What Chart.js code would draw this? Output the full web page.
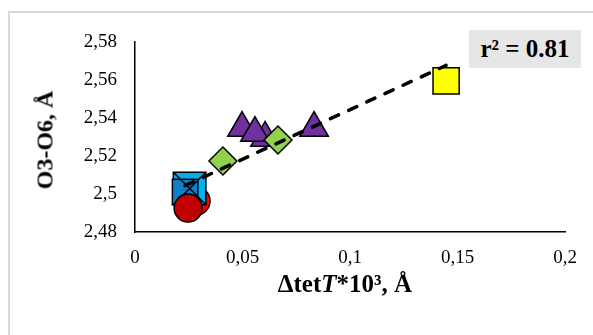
<!DOCTYPE html>
<html>
<head>
<meta charset="utf-8">
<script src="https://cdn.jsdelivr.net/npm/chart.js@4"></script>
<style>
    html, body { margin: 0; padding: 0; background: #fff; }
    #wrap { position: relative; width: 593px; height: 335px; overflow: hidden; }
    #frame {
        position: absolute; left: 8px; top: 11px; width: 700px; height: 400px;
        border-left: 2px solid #d9d9d9; border-top: 2px solid #d9d9d9;
    }
    #chart { position: absolute; left: 0; top: 0; }
    .txt {
        position: absolute; white-space: nowrap; color: #000; font-weight: bold;
        font-family: 'Liberation Serif', 'Times New Roman', serif;
    }
    #xTitle { left: 345px; top: 284px; transform: translate(-50%, -50%); font-size: 25px; }
    #yTitle { left: 45px; top: 140px; transform: translate(-50%, -50%) rotate(-90deg); font-size: 24px; }
    #rBox {
        left: 469px; top: 30px; width: 112px; height: 38px; line-height: 38px;
        text-align: center; background: #e7e6e6; font-size: 25px;
    }
</style>
</head>
<body>
<div id="wrap">
    <div id="frame"></div>
    <canvas id="chart" width="593" height="335"></canvas>
    <div class="txt" id="yTitle">O3-O6, Å</div>
    <div class="txt" id="xTitle">Δtet<i>T</i>*10³, Å</div>
    <div class="txt" id="rBox"></div>
</div>
<script>
// ========================================
// DATA
// ========================================

const xTicks = [0, 0.05, 0.1, 0.15, 0.2];
const yTicks = [2.48, 2.5, 2.52, 2.54, 2.56, 2.58];

// each series: [x, y] pairs
const circleBrightPts = [[0.0284, 2.4963]];
const circleDarkPts = [[0.0247, 2.4926]];
const squareDarkBluePts = [[0.0233, 2.5011]];
const squareBluePts = [[0.0254, 2.5029]];
const diamondPts = [[0.0409, 2.5174], [0.0665, 2.5284]];
const trianglePts = [[0.0498, 2.5347], [0.0605, 2.5295], [0.0558, 2.5321], [0.0833, 2.5347]];
const squareYellowPts = [[0.1447, 2.5595]];

const rSquaredLabel = 'r² = 0.81';

// ========================================
// HELPERS
// ========================================

const toXY = pts => pts.map(p => ({ x: p[0], y: p[1] }));
const fmt = v => String(Math.round(v * 100) / 100).replace('.', ',');

// least squares fit over every point, drawn from min x to max x
function trendline() {
    const all = [].concat(circleBrightPts, circleDarkPts, squareDarkBluePts, squareBluePts,
        diamondPts, trianglePts, squareYellowPts);
    const n = all.length;
    const mx = all.reduce((s, p) => s + p[0], 0) / n;
    const my = all.reduce((s, p) => s + p[1], 0) / n;
    let sxy = 0, sxx = 0;
    all.forEach(p => { sxy += (p[0] - mx) * (p[1] - my); sxx += (p[0] - mx) ** 2; });
    const slope = sxy / sxx;
    const icpt = my - slope * mx;
    const xs = all.map(p => p[0]);
    const x0 = Math.min(...xs), x1 = Math.max(...xs);
    return [{ x: x0, y: icpt + slope * x0 }, { x: x1, y: icpt + slope * x1 }];
}

document.getElementById('rBox').textContent = rSquaredLabel;

const serif = 'Liberation Serif, Times New Roman, serif';

function marker(data, style, radius, color, order) {
    return {
        type: 'scatter',
        data: toXY(data),
        pointStyle: style,
        pointRadius: radius,
        pointHoverRadius: radius,
        backgroundColor: color,
        borderColor: '#000',
        borderWidth: 1.5,
        order: order
    };
}

new Chart(document.getElementById('chart').getContext('2d'), {
    type: 'scatter',
    data: {
        datasets: [
            {
                type: 'line',
                data: trendline(),
                borderColor: '#000',
                borderWidth: 3.5,
                borderDash: [9, 11],
                borderCapStyle: 'round',
                pointRadius: 0,
                fill: false,
                order: 0
            },
            marker(squareYellowPts, 'rect', 18.5, '#ffff00', 1),
            marker(diamondPts, 'rectRot', 14, '#92d050', 2),
            marker(trianglePts, 'triangle', 16.5, '#7030a0', 3),
            marker(circleDarkPts, 'circle', 14, '#c00000', 4),
            marker(squareBluePts, 'crossRot', 23, '#000', 5),
            marker(squareDarkBluePts, 'rect', 18, '#0f7fc8', 6),
            marker(squareBluePts, 'rect', 23, '#00b0f0', 7),
            marker(circleBrightPts, 'circle', 14, '#ff0000', 8)
        ]
    },
    options: {
        responsive: false,
        animation: false,
        events: [],
        layout: { padding: { left: 0, top: 42, right: 28, bottom: 0 } },
        plugins: {
            legend: { display: false },
            tooltip: { enabled: false }
        },
        scales: {
            x: {
                type: 'linear',
                min: xTicks[0],
                max: xTicks[xTicks.length - 1],
                afterFit: scale => { scale.height = 103; },
                afterBuildTicks: scale => { scale.ticks = xTicks.map(v => ({ value: v })); },
                grid: { display: false, drawTicks: false },
                border: { display: true, color: '#000', width: 1.5 },
                ticks: {
                    padding: 15,
                    color: '#000',
                    font: { family: serif, size: 19 },
                    callback: v => fmt(v)
                }
            },
            y: {
                type: 'linear',
                min: yTicks[0],
                max: yTicks[yTicks.length - 1],
                afterFit: scale => { scale.width = 135; },
                afterBuildTicks: scale => { scale.ticks = yTicks.map(v => ({ value: v })); },
                grid: { display: false, drawTicks: false },
                border: { display: true, color: '#000', width: 1.5 },
                ticks: {
                    padding: 18,
                    color: '#000',
                    font: { family: serif, size: 19 },
                    callback: v => fmt(v)
                }
            }
        }
    }
});
</script>
</body>
</html>
